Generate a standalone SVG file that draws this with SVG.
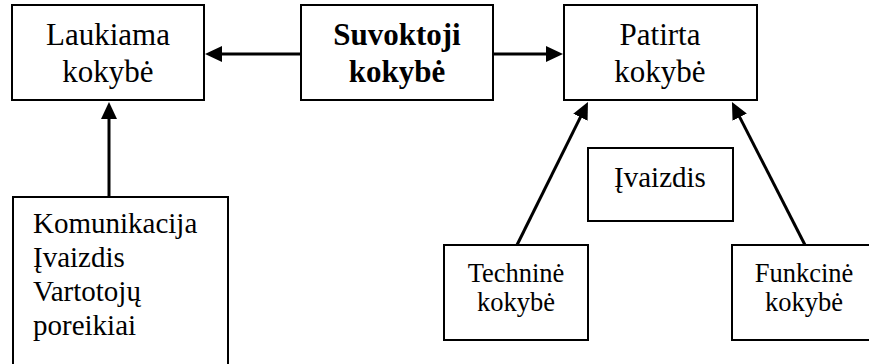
<svg xmlns="http://www.w3.org/2000/svg" width="869" height="364" viewBox="0 0 869 364">
  <style>
    .box { fill: #ffffff; stroke: #000000; stroke-width: 2; }
    .lbl { font-family: "Liberation Serif", "Times New Roman", serif; fill: #000000; }
    .big { font-size: 31px; text-anchor: middle; }
    .bold { font-weight: bold; }
    .list { font-size: 29px; }
    .mid { font-size: 29px; text-anchor: middle; }
    .small { font-size: 26.5px; text-anchor: middle; }
    .conn { fill: none; stroke: #000000; stroke-width: 3; marker-end: url(#head); }
  </style>
  <defs>
    <marker id="head" viewBox="0 0 17 16" refX="9" refY="8" markerWidth="17" markerHeight="16" markerUnits="userSpaceOnUse" orient="auto">
      <path d="M0,0 L17,8 L0,16 z" fill="#000000"/>
    </marker>
  </defs>

  <g id="laukiama">
    <rect class="box" x="12" y="5" width="192" height="95"/>
    <text class="lbl big" x="108" y="45">Laukiama</text>
    <text class="lbl big" x="108" y="82">kokybė</text>
  </g>

  <g id="suvoktoji">
    <rect class="box" x="301" y="5" width="192" height="95"/>
    <text class="lbl big bold" x="397" y="45">Suvoktoji</text>
    <text class="lbl big bold" x="397" y="82">kokybė</text>
  </g>

  <g id="patirta">
    <rect class="box" x="564" y="5" width="193" height="95"/>
    <text class="lbl big" x="660" y="45">Patirta</text>
    <text class="lbl big" x="660" y="82">kokybė</text>
  </g>

  <g id="veiksniai">
    <rect class="box" x="13" y="197" width="215" height="200"/>
    <text class="lbl list" x="33" y="233">Komunikacija</text>
    <text class="lbl list" x="33" y="267">Įvaizdis</text>
    <text class="lbl list" x="33" y="301">Vartotojų</text>
    <text class="lbl list" x="33" y="335">poreikiai</text>
  </g>

  <g id="ivaizdis">
    <rect class="box" x="588" y="148" width="145" height="73"/>
    <text class="lbl mid" x="660" y="187">Įvaizdis</text>
  </g>

  <g id="technine">
    <rect class="box" x="444" y="245" width="144" height="95"/>
    <text class="lbl small" x="516" y="282">Techninė</text>
    <text class="lbl small" x="516" y="311">kokybė</text>
  </g>

  <g id="funkcine">
    <rect class="box" x="732" y="245" width="150" height="95"/>
    <text class="lbl small" x="804" y="282">Funkcinė</text>
    <text class="lbl small" x="804" y="311">kokybė</text>
  </g>

  <g id="connectors">
    <line class="conn" x1="301" y1="54" x2="213" y2="54"/>
    <line class="conn" x1="493" y1="54" x2="555" y2="54"/>
    <line class="conn" x1="109" y1="197" x2="109" y2="110"/>
    <line class="conn" x1="517" y1="245" x2="584.4" y2="109.2"/>
    <line class="conn" x1="805" y1="245" x2="735.6" y2="109.1"/>
  </g>
</svg>
